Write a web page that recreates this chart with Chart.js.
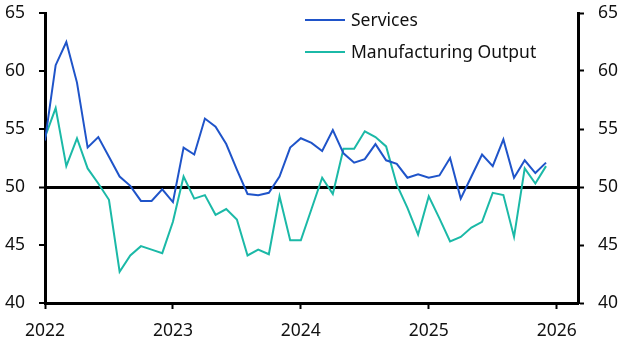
<!DOCTYPE html>
<html>
<head>
<meta charset="utf-8">
<script src="https://cdn.jsdelivr.net/npm/chart.js@4.4.1/dist/chart.umd.min.js"></script>
<style>
html,body{margin:0;padding:0;background:#fff;}
#wrap{width:629px;height:355px;position:relative;}
</style>
</head>
<body>
<div id="wrap"><canvas id="c" width="629" height="355"></canvas></div>
<script>
const startYear = 2022;
const months = [];
for (let y = 2022; y <= 2025; y++) for (let m = 1; m <= 12; m++) months.push(y + '-' + String(m).padStart(2, '0'));

const services = [
  54.0, 60.5, 62.5, 59.0, 53.4, 54.3, 52.6, 50.9, 50.1, 48.8, 48.8, 49.8,
  48.7, 53.4, 52.8, 55.9, 55.2, 53.7, 51.5, 49.4, 49.3, 49.5, 50.9, 53.4,
  54.2, 53.8, 53.1, 54.9, 52.9, 52.1, 52.4, 53.7, 52.3, 52.0, 50.8, 51.1,
  50.8, 51.0, 52.5, 49.0, 50.9, 52.8, 51.8, 54.1, 50.8, 52.3, 51.2, 52.1
];
const manufacturing = [
  54.3, 56.8, 51.8, 54.2, 51.6, 50.3, 48.9, 42.7, 44.1, 44.9, 44.6, 44.3,
  47.0, 50.9, 49.0, 49.3, 47.6, 48.1, 47.2, 44.1, 44.6, 44.2, 49.2, 45.4,
  45.4, 48.1, 50.8, 49.4, 53.3, 53.3, 54.8, 54.3, 53.5, 50.2, 48.2, 45.9,
  49.2, 47.3, 45.3, 45.7, 46.5, 47.0, 49.5, 49.3, 45.7, 51.6, 50.3, 51.8
];
const yearTicks = [2022, 2023, 2024, 2025, 2026];
const yTicks = [40, 45, 50, 55, 60, 65];
const seriesNames = ['Services', 'Manufacturing Output'];
const seriesColors = ['#1f54c9', '#1bb9a7'];

function monthIndex(lbl) {
  const [y, m] = lbl.split('-').map(Number);
  return (y - startYear) * 12 + (m - 1);
}
const toPts = arr => arr.map((v, i) => ({ x: monthIndex(months[i]), y: v }));

const FONT = 'Noto Sans';
Chart.defaults.font.family = FONT;
Chart.defaults.font.size = 17.5;
Chart.defaults.color = '#111';

const legendPlugin = {
  id: 'inlineLegend',
  afterDatasetsDraw(chart) {
    const ctx = chart.ctx;
    ctx.save();
    ctx.font = '17.5px "' + FONT + '"';
    ctx.textBaseline = 'middle';
    ctx.fillStyle = '#111';
    chart.data.datasets.forEach((ds, i) => {
      const y = 20 + i * 32;
      ctx.strokeStyle = ds.borderColor;
      ctx.lineWidth = 2;
      ctx.beginPath();
      ctx.moveTo(305, y);
      ctx.lineTo(345, y);
      ctx.stroke();
      ctx.fillText(ds.label, 351, y + 1);
    });
    ctx.restore();
  }
};

const yScaleCommon = {
  type: 'linear',
  min: 40, max: 65,
  afterBuildTicks: s => { s.ticks = yTicks.map(v => ({ value: v })); },
  border: { display: true, color: '#000', width: 3 },
};

new Chart(document.getElementById('c'), {
  type: 'line',
  data: {
    datasets: [
      { label: seriesNames[0], data: toPts(services), borderColor: seriesColors[0], borderWidth: 2, pointRadius: 0, tension: 0 },
      { label: seriesNames[1], data: toPts(manufacturing), borderColor: seriesColors[1], borderWidth: 2, pointRadius: 0, tension: 0 }
    ]
  },
  options: {
    responsive: false,
    animation: false,
    layout: { padding: { top: 13, left: 0, right: 0, bottom: 0 } },
    plugins: { legend: { display: false }, tooltip: { enabled: false } },
    scales: {
      x: {
        type: 'linear',
        min: 0, max: 50,
        afterBuildTicks: s => { s.ticks = yearTicks.map(y => ({ value: (y - startYear) * 12 })); },
        ticks: { callback: v => String(startYear + v / 12), padding: 12, maxRotation: 0, autoSkip: false },
        grid: { drawOnChartArea: false, tickLength: 6, tickColor: '#000', tickWidth: 2 },
        border: { display: true, color: '#000', width: 3 },
        afterFit: s => { s.height = 52; s.paddingLeft = 0; s.paddingRight = 0; }
      },
      y: Object.assign({}, yScaleCommon, {
        position: 'left',
        ticks: { padding: 14 },
        grid: {
          color: c => (c.tick && c.tick.value === 50) ? '#000' : 'rgba(0,0,0,0)',
          lineWidth: c => (c.tick && c.tick.value === 50) ? 3 : 0,
          tickColor: '#000', tickWidth: 2, tickLength: 6
        },
        afterFit: s => { s.width = 45; s.paddingTop = 0; s.paddingBottom = 0; }
      }),
      y2: Object.assign({}, yScaleCommon, {
        position: 'right',
        ticks: { padding: 14 },
        grid: { drawOnChartArea: false, tickColor: '#000', tickWidth: 2, tickLength: 6 },
        afterFit: s => { s.width = 51; s.paddingTop = 0; s.paddingBottom = 0; }
      })
    }
  },
  plugins: [legendPlugin]
});
</script>
</body>
</html>
